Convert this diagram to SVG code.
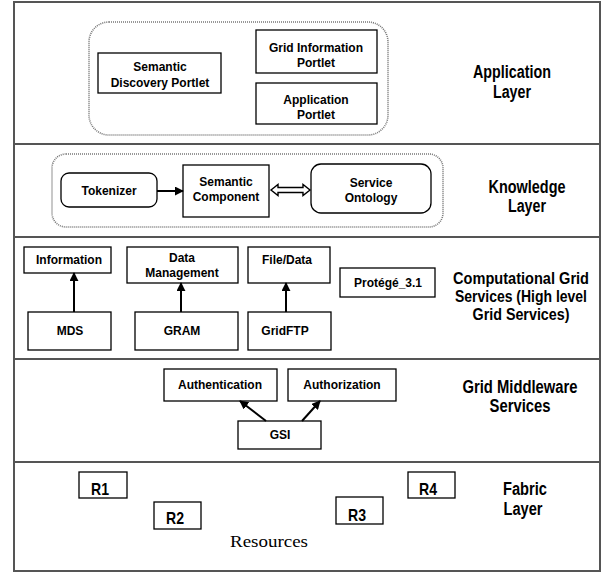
<svg xmlns="http://www.w3.org/2000/svg" width="611" height="574" viewBox="0 0 611 574">
<style>
.frame{fill:none;stroke:#555;stroke-width:2}
.div{stroke:#555;stroke-width:2}
.box{fill:#fff;stroke:#000;stroke-width:1.3}
.dot{fill:none;stroke:#777;stroke-width:1.6;stroke-dasharray:1 1}
.t{font-family:"Liberation Sans",Arial,sans-serif;font-weight:bold;font-size:12px;fill:#000;text-anchor:middle}
.lab{font-family:"Liberation Sans Narrow","Liberation Sans",Arial,sans-serif;font-weight:bold;font-size:18px;fill:#000;text-anchor:middle}
.lab2{font-family:"Liberation Sans Narrow","Liberation Sans",Arial,sans-serif;font-weight:bold;font-size:16.5px;fill:#000;text-anchor:middle}
.r{font-family:"Liberation Sans Narrow","Liberation Sans",Arial,sans-serif;font-weight:bold;font-size:17px;fill:#000;text-anchor:middle}
.res{font-family:"Liberation Serif","Times New Roman",serif;font-size:17px;fill:#000;text-anchor:middle}
.ln{stroke:#000;stroke-width:2;fill:none}
</style>
<defs>
<marker id="ah" viewBox="0 0 10 10" refX="9" refY="5" markerWidth="9" markerHeight="9" markerUnits="userSpaceOnUse" orient="auto">
<path d="M0,0 L10,5 L0,10 z" fill="#000"/>
</marker>
</defs>
<rect width="611" height="574" fill="#fff"/>
<g id="layers">
<rect class="frame" x="14" y="2" width="586" height="569"/>
<line class="div" x1="14" y1="144" x2="600" y2="144"/>
<line class="div" x1="14" y1="237" x2="600" y2="237"/>
<line class="div" x1="14" y1="359" x2="600" y2="359"/>
<line class="div" x1="14" y1="462" x2="600" y2="462"/>
</g>
<g id="application-layer">
<rect class="dot" x="89" y="22" width="299" height="113" rx="20"/>
<text class="lab" x="512" y="78" textLength="78" lengthAdjust="spacingAndGlyphs">Application</text>
<text class="lab" x="512" y="98" textLength="38" lengthAdjust="spacingAndGlyphs">Layer</text>
</g>
<g id="semantic-discovery-portlet">
<rect class="box" x="98" y="53" width="123" height="40"/>
<text class="t" x="160" y="71">Semantic</text>
<text class="t" x="160" y="87">Discovery Portlet</text>
</g>
<g id="grid-information-portlet">
<rect class="box" x="256" y="30" width="121" height="43"/>
<text class="t" x="316" y="52">Grid Information</text>
<text class="t" x="316" y="67">Portlet</text>
</g>
<g id="application-portlet">
<rect class="box" x="256" y="83" width="121" height="41"/>
<text class="t" x="316" y="104">Application</text>
<text class="t" x="316" y="119">Portlet</text>
</g>
<g id="knowledge-layer">
<rect class="dot" x="52" y="154" width="391" height="73" rx="14"/>
<text class="lab" x="527" y="193" textLength="77" lengthAdjust="spacingAndGlyphs">Knowledge</text>
<text class="lab" x="527" y="212" textLength="38" lengthAdjust="spacingAndGlyphs">Layer</text>
</g>
<g id="tokenizer">
<rect class="box" x="61" y="173" width="96" height="34" rx="8"/>
<text class="t" x="109" y="195">Tokenizer</text>
</g>
<g id="semantic-component">
<rect class="box" x="183" y="165" width="86" height="52"/>
<text class="t" x="226" y="186">Semantic</text>
<text class="t" x="226" y="201">Component</text>
</g>
<g id="service-ontology">
<rect class="box" x="311" y="164" width="120" height="49" rx="10"/>
<text class="t" x="371" y="187">Service</text>
<text class="t" x="371" y="202">Ontology</text>
</g>
<g id="computational-layer">
<text class="lab2" x="521" y="284" textLength="136" lengthAdjust="spacingAndGlyphs">Computational Grid</text>
<text class="lab2" x="521" y="302" textLength="132" lengthAdjust="spacingAndGlyphs">Services (High level</text>
<text class="lab2" x="521" y="320" textLength="97" lengthAdjust="spacingAndGlyphs">Grid Services)</text>
</g>
<g id="information">
<rect class="box" x="24" y="247" width="87" height="26"/>
<text class="t" x="69" y="264">Information</text>
</g>
<g id="data-management">
<rect class="box" x="127" y="247" width="111" height="36"/>
<text class="t" x="182" y="262">Data</text>
<text class="t" x="182" y="277">Management</text>
</g>
<g id="file-data">
<rect class="box" x="248" y="247" width="82" height="36"/>
<text class="t" x="287" y="264">File/Data</text>
</g>
<g id="protege">
<rect class="box" x="340" y="268" width="95" height="29"/>
<text class="t" x="388" y="287">Protégé_3.1</text>
</g>
<g id="mds">
<rect class="box" x="28" y="312" width="83" height="38"/>
<text class="t" x="70" y="335">MDS</text>
</g>
<g id="gram">
<rect class="box" x="135" y="312" width="103" height="38"/>
<text class="t" x="182" y="335">GRAM</text>
</g>
<g id="gridftp">
<rect class="box" x="248" y="312" width="83" height="38"/>
<text class="t" x="285" y="335">GridFTP</text>
</g>
<g id="middleware-layer">
<text class="lab" x="520" y="393" textLength="115" lengthAdjust="spacingAndGlyphs">Grid Middleware</text>
<text class="lab" x="520" y="412" textLength="61" lengthAdjust="spacingAndGlyphs">Services</text>
</g>
<g id="authentication">
<rect class="box" x="164" y="369" width="113" height="32"/>
<text class="t" x="220" y="389">Authentication</text>
</g>
<g id="authorization">
<rect class="box" x="288" y="369" width="108" height="32"/>
<text class="t" x="342" y="389">Authorization</text>
</g>
<g id="gsi">
<rect class="box" x="238" y="421" width="83" height="28"/>
<text class="t" x="280" y="439">GSI</text>
</g>
<g id="fabric-layer">
<text class="lab" x="525" y="495" textLength="44" lengthAdjust="spacingAndGlyphs">Fabric</text>
<text class="lab" x="523" y="515" textLength="39" lengthAdjust="spacingAndGlyphs">Layer</text>
<text class="res" x="269" y="547" textLength="78" lengthAdjust="spacingAndGlyphs">Resources</text>
</g>
<g id="r1">
<rect class="box" x="79" y="472" width="48" height="26"/>
<text class="r" x="100" y="495" textLength="18" lengthAdjust="spacingAndGlyphs">R1</text>
</g>
<g id="r2">
<rect class="box" x="154" y="502" width="47" height="27"/>
<text class="r" x="175" y="524" textLength="18" lengthAdjust="spacingAndGlyphs">R2</text>
</g>
<g id="r3">
<rect class="box" x="336" y="497" width="47" height="27"/>
<text class="r" x="357" y="521" textLength="18" lengthAdjust="spacingAndGlyphs">R3</text>
</g>
<g id="r4">
<rect class="box" x="408" y="472" width="47" height="26"/>
<text class="r" x="428" y="495" textLength="18" lengthAdjust="spacingAndGlyphs">R4</text>
</g>
<g id="connectors">
<line class="ln" x1="157" y1="191" x2="183" y2="191" marker-end="url(#ah)"/>
<polygon points="271,190 278,184.5 278,187.5 303,187.5 303,184.5 310,190 303,195.5 303,192.5 278,192.5 278,195.5" fill="#fff" stroke="#000" stroke-width="1.4"/>
<line class="ln" x1="74" y1="312" x2="74" y2="273" marker-end="url(#ah)"/>
<line class="ln" x1="181" y1="312" x2="181" y2="283" marker-end="url(#ah)"/>
<line class="ln" x1="286" y1="312" x2="286" y2="283" marker-end="url(#ah)"/>
<line class="ln" x1="266" y1="421" x2="240" y2="401" marker-end="url(#ah)"/>
<line class="ln" x1="302" y1="421" x2="320" y2="401" marker-end="url(#ah)"/>
</g>
</svg>
